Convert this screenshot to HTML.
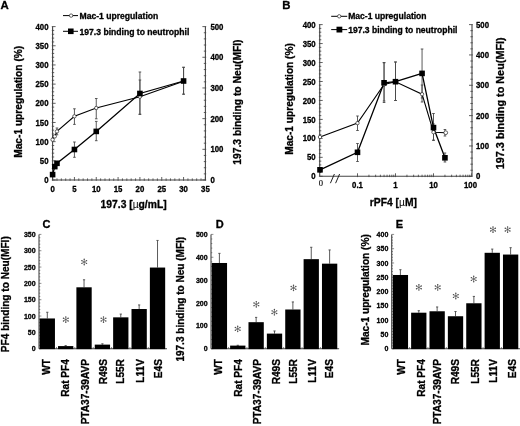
<!DOCTYPE html>
<html><head><meta charset="utf-8"><title>Figure</title>
<style>
html,body{margin:0;padding:0;background:#fff;}
body{width:520px;height:426px;overflow:hidden;font-family:"Liberation Sans",sans-serif;}
svg{display:block;filter:blur(0.35px);}
</style></head><body>
<svg width="520" height="426" viewBox="0 0 520 426">
<rect x="0" y="0" width="520" height="426" fill="#fff"/>
<text transform="translate(0.40 8.70)" font-size="11.4" font-weight="bold" font-family="Liberation Sans, sans-serif" text-anchor="start" fill="#000" stroke="#000" stroke-width="0.3" stroke-linejoin="round" >A</text>
<line x1="52.60" y1="26.60" x2="52.60" y2="180.00" stroke="#444" stroke-width="1.1" />
<line x1="205.40" y1="26.60" x2="205.40" y2="180.00" stroke="#444" stroke-width="1.1" />
<line x1="52.60" y1="180.00" x2="205.40" y2="180.00" stroke="#444" stroke-width="1.1" />
<line x1="51.80" y1="180.00" x2="55.60" y2="180.00" stroke="#444" stroke-width="0.85" />
<text transform="translate(48.50 183.10) scale(0.92 1)" font-size="8.5" font-weight="bold" font-family="Liberation Sans, sans-serif" text-anchor="end" fill="#000" stroke="#000" stroke-width="0.3" stroke-linejoin="round" >0</text>
<line x1="51.80" y1="176.16" x2="54.20" y2="176.16" stroke="#444" stroke-width="0.85" />
<line x1="51.80" y1="172.33" x2="54.20" y2="172.33" stroke="#444" stroke-width="0.85" />
<line x1="51.80" y1="168.50" x2="54.20" y2="168.50" stroke="#444" stroke-width="0.85" />
<line x1="51.80" y1="164.66" x2="54.20" y2="164.66" stroke="#444" stroke-width="0.85" />
<line x1="51.80" y1="160.82" x2="55.60" y2="160.82" stroke="#444" stroke-width="0.85" />
<text transform="translate(48.50 163.92) scale(0.92 1)" font-size="8.5" font-weight="bold" font-family="Liberation Sans, sans-serif" text-anchor="end" fill="#000" stroke="#000" stroke-width="0.3" stroke-linejoin="round" >50</text>
<line x1="51.80" y1="156.99" x2="54.20" y2="156.99" stroke="#444" stroke-width="0.85" />
<line x1="51.80" y1="153.16" x2="54.20" y2="153.16" stroke="#444" stroke-width="0.85" />
<line x1="51.80" y1="149.32" x2="54.20" y2="149.32" stroke="#444" stroke-width="0.85" />
<line x1="51.80" y1="145.49" x2="54.20" y2="145.49" stroke="#444" stroke-width="0.85" />
<line x1="51.80" y1="141.65" x2="55.60" y2="141.65" stroke="#444" stroke-width="0.85" />
<text transform="translate(48.50 144.75) scale(0.92 1)" font-size="8.5" font-weight="bold" font-family="Liberation Sans, sans-serif" text-anchor="end" fill="#000" stroke="#000" stroke-width="0.3" stroke-linejoin="round" >100</text>
<line x1="51.80" y1="137.81" x2="54.20" y2="137.81" stroke="#444" stroke-width="0.85" />
<line x1="51.80" y1="133.98" x2="54.20" y2="133.98" stroke="#444" stroke-width="0.85" />
<line x1="51.80" y1="130.15" x2="54.20" y2="130.15" stroke="#444" stroke-width="0.85" />
<line x1="51.80" y1="126.31" x2="54.20" y2="126.31" stroke="#444" stroke-width="0.85" />
<line x1="51.80" y1="122.47" x2="55.60" y2="122.47" stroke="#444" stroke-width="0.85" />
<text transform="translate(48.50 125.57) scale(0.92 1)" font-size="8.5" font-weight="bold" font-family="Liberation Sans, sans-serif" text-anchor="end" fill="#000" stroke="#000" stroke-width="0.3" stroke-linejoin="round" >150</text>
<line x1="51.80" y1="118.64" x2="54.20" y2="118.64" stroke="#444" stroke-width="0.85" />
<line x1="51.80" y1="114.81" x2="54.20" y2="114.81" stroke="#444" stroke-width="0.85" />
<line x1="51.80" y1="110.97" x2="54.20" y2="110.97" stroke="#444" stroke-width="0.85" />
<line x1="51.80" y1="107.14" x2="54.20" y2="107.14" stroke="#444" stroke-width="0.85" />
<line x1="51.80" y1="103.30" x2="55.60" y2="103.30" stroke="#444" stroke-width="0.85" />
<text transform="translate(48.50 106.40) scale(0.92 1)" font-size="8.5" font-weight="bold" font-family="Liberation Sans, sans-serif" text-anchor="end" fill="#000" stroke="#000" stroke-width="0.3" stroke-linejoin="round" >200</text>
<line x1="51.80" y1="99.47" x2="54.20" y2="99.47" stroke="#444" stroke-width="0.85" />
<line x1="51.80" y1="95.63" x2="54.20" y2="95.63" stroke="#444" stroke-width="0.85" />
<line x1="51.80" y1="91.80" x2="54.20" y2="91.80" stroke="#444" stroke-width="0.85" />
<line x1="51.80" y1="87.96" x2="54.20" y2="87.96" stroke="#444" stroke-width="0.85" />
<line x1="51.80" y1="84.12" x2="55.60" y2="84.12" stroke="#444" stroke-width="0.85" />
<text transform="translate(48.50 87.22) scale(0.92 1)" font-size="8.5" font-weight="bold" font-family="Liberation Sans, sans-serif" text-anchor="end" fill="#000" stroke="#000" stroke-width="0.3" stroke-linejoin="round" >250</text>
<line x1="51.80" y1="80.29" x2="54.20" y2="80.29" stroke="#444" stroke-width="0.85" />
<line x1="51.80" y1="76.45" x2="54.20" y2="76.45" stroke="#444" stroke-width="0.85" />
<line x1="51.80" y1="72.62" x2="54.20" y2="72.62" stroke="#444" stroke-width="0.85" />
<line x1="51.80" y1="68.78" x2="54.20" y2="68.78" stroke="#444" stroke-width="0.85" />
<line x1="51.80" y1="64.95" x2="55.60" y2="64.95" stroke="#444" stroke-width="0.85" />
<text transform="translate(48.50 68.05) scale(0.92 1)" font-size="8.5" font-weight="bold" font-family="Liberation Sans, sans-serif" text-anchor="end" fill="#000" stroke="#000" stroke-width="0.3" stroke-linejoin="round" >300</text>
<line x1="51.80" y1="61.11" x2="54.20" y2="61.11" stroke="#444" stroke-width="0.85" />
<line x1="51.80" y1="57.28" x2="54.20" y2="57.28" stroke="#444" stroke-width="0.85" />
<line x1="51.80" y1="53.44" x2="54.20" y2="53.44" stroke="#444" stroke-width="0.85" />
<line x1="51.80" y1="49.61" x2="54.20" y2="49.61" stroke="#444" stroke-width="0.85" />
<line x1="51.80" y1="45.78" x2="55.60" y2="45.78" stroke="#444" stroke-width="0.85" />
<text transform="translate(48.50 48.88) scale(0.92 1)" font-size="8.5" font-weight="bold" font-family="Liberation Sans, sans-serif" text-anchor="end" fill="#000" stroke="#000" stroke-width="0.3" stroke-linejoin="round" >350</text>
<line x1="51.80" y1="41.94" x2="54.20" y2="41.94" stroke="#444" stroke-width="0.85" />
<line x1="51.80" y1="38.10" x2="54.20" y2="38.10" stroke="#444" stroke-width="0.85" />
<line x1="51.80" y1="34.27" x2="54.20" y2="34.27" stroke="#444" stroke-width="0.85" />
<line x1="51.80" y1="30.44" x2="54.20" y2="30.44" stroke="#444" stroke-width="0.85" />
<line x1="51.80" y1="26.60" x2="55.60" y2="26.60" stroke="#444" stroke-width="0.85" />
<text transform="translate(48.50 29.70) scale(0.92 1)" font-size="8.5" font-weight="bold" font-family="Liberation Sans, sans-serif" text-anchor="end" fill="#000" stroke="#000" stroke-width="0.3" stroke-linejoin="round" >400</text>
<line x1="202.40" y1="180.00" x2="206.20" y2="180.00" stroke="#444" stroke-width="0.85" />
<text transform="translate(210.40 183.10) scale(0.92 1)" font-size="8.5" font-weight="bold" font-family="Liberation Sans, sans-serif" text-anchor="start" fill="#000" stroke="#000" stroke-width="0.3" stroke-linejoin="round" >0</text>
<line x1="203.80" y1="173.86" x2="206.20" y2="173.86" stroke="#444" stroke-width="0.85" />
<line x1="203.80" y1="167.73" x2="206.20" y2="167.73" stroke="#444" stroke-width="0.85" />
<line x1="203.80" y1="161.59" x2="206.20" y2="161.59" stroke="#444" stroke-width="0.85" />
<line x1="203.80" y1="155.46" x2="206.20" y2="155.46" stroke="#444" stroke-width="0.85" />
<line x1="202.40" y1="149.32" x2="206.20" y2="149.32" stroke="#444" stroke-width="0.85" />
<text transform="translate(210.40 152.42) scale(0.92 1)" font-size="8.5" font-weight="bold" font-family="Liberation Sans, sans-serif" text-anchor="start" fill="#000" stroke="#000" stroke-width="0.3" stroke-linejoin="round" >100</text>
<line x1="203.80" y1="143.18" x2="206.20" y2="143.18" stroke="#444" stroke-width="0.85" />
<line x1="203.80" y1="137.05" x2="206.20" y2="137.05" stroke="#444" stroke-width="0.85" />
<line x1="203.80" y1="130.91" x2="206.20" y2="130.91" stroke="#444" stroke-width="0.85" />
<line x1="203.80" y1="124.78" x2="206.20" y2="124.78" stroke="#444" stroke-width="0.85" />
<line x1="202.40" y1="118.64" x2="206.20" y2="118.64" stroke="#444" stroke-width="0.85" />
<text transform="translate(210.40 121.74) scale(0.92 1)" font-size="8.5" font-weight="bold" font-family="Liberation Sans, sans-serif" text-anchor="start" fill="#000" stroke="#000" stroke-width="0.3" stroke-linejoin="round" >200</text>
<line x1="203.80" y1="112.50" x2="206.20" y2="112.50" stroke="#444" stroke-width="0.85" />
<line x1="203.80" y1="106.37" x2="206.20" y2="106.37" stroke="#444" stroke-width="0.85" />
<line x1="203.80" y1="100.23" x2="206.20" y2="100.23" stroke="#444" stroke-width="0.85" />
<line x1="203.80" y1="94.10" x2="206.20" y2="94.10" stroke="#444" stroke-width="0.85" />
<line x1="202.40" y1="87.96" x2="206.20" y2="87.96" stroke="#444" stroke-width="0.85" />
<text transform="translate(210.40 91.06) scale(0.92 1)" font-size="8.5" font-weight="bold" font-family="Liberation Sans, sans-serif" text-anchor="start" fill="#000" stroke="#000" stroke-width="0.3" stroke-linejoin="round" >300</text>
<line x1="203.80" y1="81.82" x2="206.20" y2="81.82" stroke="#444" stroke-width="0.85" />
<line x1="203.80" y1="75.69" x2="206.20" y2="75.69" stroke="#444" stroke-width="0.85" />
<line x1="203.80" y1="69.55" x2="206.20" y2="69.55" stroke="#444" stroke-width="0.85" />
<line x1="203.80" y1="63.42" x2="206.20" y2="63.42" stroke="#444" stroke-width="0.85" />
<line x1="202.40" y1="57.28" x2="206.20" y2="57.28" stroke="#444" stroke-width="0.85" />
<text transform="translate(210.40 60.38) scale(0.92 1)" font-size="8.5" font-weight="bold" font-family="Liberation Sans, sans-serif" text-anchor="start" fill="#000" stroke="#000" stroke-width="0.3" stroke-linejoin="round" >400</text>
<line x1="203.80" y1="51.14" x2="206.20" y2="51.14" stroke="#444" stroke-width="0.85" />
<line x1="203.80" y1="45.01" x2="206.20" y2="45.01" stroke="#444" stroke-width="0.85" />
<line x1="203.80" y1="38.87" x2="206.20" y2="38.87" stroke="#444" stroke-width="0.85" />
<line x1="203.80" y1="32.74" x2="206.20" y2="32.74" stroke="#444" stroke-width="0.85" />
<line x1="202.40" y1="26.60" x2="206.20" y2="26.60" stroke="#444" stroke-width="0.85" />
<text transform="translate(210.40 29.70) scale(0.92 1)" font-size="8.5" font-weight="bold" font-family="Liberation Sans, sans-serif" text-anchor="start" fill="#000" stroke="#000" stroke-width="0.3" stroke-linejoin="round" >500</text>
<line x1="52.60" y1="177.00" x2="52.60" y2="180.80" stroke="#444" stroke-width="0.85" />
<text transform="translate(52.60 191.60) scale(0.92 1)" font-size="8.5" font-weight="bold" font-family="Liberation Sans, sans-serif" text-anchor="middle" fill="#000" stroke="#000" stroke-width="0.3" stroke-linejoin="round" >0</text>
<line x1="56.97" y1="178.40" x2="56.97" y2="180.80" stroke="#444" stroke-width="0.85" />
<line x1="61.33" y1="178.40" x2="61.33" y2="180.80" stroke="#444" stroke-width="0.85" />
<line x1="65.70" y1="178.40" x2="65.70" y2="180.80" stroke="#444" stroke-width="0.85" />
<line x1="70.06" y1="178.40" x2="70.06" y2="180.80" stroke="#444" stroke-width="0.85" />
<line x1="74.43" y1="177.00" x2="74.43" y2="180.80" stroke="#444" stroke-width="0.85" />
<text transform="translate(74.43 191.60) scale(0.92 1)" font-size="8.5" font-weight="bold" font-family="Liberation Sans, sans-serif" text-anchor="middle" fill="#000" stroke="#000" stroke-width="0.3" stroke-linejoin="round" >5</text>
<line x1="78.79" y1="178.40" x2="78.79" y2="180.80" stroke="#444" stroke-width="0.85" />
<line x1="83.16" y1="178.40" x2="83.16" y2="180.80" stroke="#444" stroke-width="0.85" />
<line x1="87.53" y1="178.40" x2="87.53" y2="180.80" stroke="#444" stroke-width="0.85" />
<line x1="91.89" y1="178.40" x2="91.89" y2="180.80" stroke="#444" stroke-width="0.85" />
<line x1="96.26" y1="177.00" x2="96.26" y2="180.80" stroke="#444" stroke-width="0.85" />
<text transform="translate(96.26 191.60) scale(0.92 1)" font-size="8.5" font-weight="bold" font-family="Liberation Sans, sans-serif" text-anchor="middle" fill="#000" stroke="#000" stroke-width="0.3" stroke-linejoin="round" >10</text>
<line x1="100.62" y1="178.40" x2="100.62" y2="180.80" stroke="#444" stroke-width="0.85" />
<line x1="104.99" y1="178.40" x2="104.99" y2="180.80" stroke="#444" stroke-width="0.85" />
<line x1="109.35" y1="178.40" x2="109.35" y2="180.80" stroke="#444" stroke-width="0.85" />
<line x1="113.72" y1="178.40" x2="113.72" y2="180.80" stroke="#444" stroke-width="0.85" />
<line x1="118.09" y1="177.00" x2="118.09" y2="180.80" stroke="#444" stroke-width="0.85" />
<text transform="translate(118.09 191.60) scale(0.92 1)" font-size="8.5" font-weight="bold" font-family="Liberation Sans, sans-serif" text-anchor="middle" fill="#000" stroke="#000" stroke-width="0.3" stroke-linejoin="round" >15</text>
<line x1="122.45" y1="178.40" x2="122.45" y2="180.80" stroke="#444" stroke-width="0.85" />
<line x1="126.82" y1="178.40" x2="126.82" y2="180.80" stroke="#444" stroke-width="0.85" />
<line x1="131.18" y1="178.40" x2="131.18" y2="180.80" stroke="#444" stroke-width="0.85" />
<line x1="135.55" y1="178.40" x2="135.55" y2="180.80" stroke="#444" stroke-width="0.85" />
<line x1="139.91" y1="177.00" x2="139.91" y2="180.80" stroke="#444" stroke-width="0.85" />
<text transform="translate(139.91 191.60) scale(0.92 1)" font-size="8.5" font-weight="bold" font-family="Liberation Sans, sans-serif" text-anchor="middle" fill="#000" stroke="#000" stroke-width="0.3" stroke-linejoin="round" >20</text>
<line x1="144.28" y1="178.40" x2="144.28" y2="180.80" stroke="#444" stroke-width="0.85" />
<line x1="148.65" y1="178.40" x2="148.65" y2="180.80" stroke="#444" stroke-width="0.85" />
<line x1="153.01" y1="178.40" x2="153.01" y2="180.80" stroke="#444" stroke-width="0.85" />
<line x1="157.38" y1="178.40" x2="157.38" y2="180.80" stroke="#444" stroke-width="0.85" />
<line x1="161.74" y1="177.00" x2="161.74" y2="180.80" stroke="#444" stroke-width="0.85" />
<text transform="translate(161.74 191.60) scale(0.92 1)" font-size="8.5" font-weight="bold" font-family="Liberation Sans, sans-serif" text-anchor="middle" fill="#000" stroke="#000" stroke-width="0.3" stroke-linejoin="round" >25</text>
<line x1="166.11" y1="178.40" x2="166.11" y2="180.80" stroke="#444" stroke-width="0.85" />
<line x1="170.47" y1="178.40" x2="170.47" y2="180.80" stroke="#444" stroke-width="0.85" />
<line x1="174.84" y1="178.40" x2="174.84" y2="180.80" stroke="#444" stroke-width="0.85" />
<line x1="179.21" y1="178.40" x2="179.21" y2="180.80" stroke="#444" stroke-width="0.85" />
<line x1="183.57" y1="177.00" x2="183.57" y2="180.80" stroke="#444" stroke-width="0.85" />
<text transform="translate(183.57 191.60) scale(0.92 1)" font-size="8.5" font-weight="bold" font-family="Liberation Sans, sans-serif" text-anchor="middle" fill="#000" stroke="#000" stroke-width="0.3" stroke-linejoin="round" >30</text>
<line x1="187.94" y1="178.40" x2="187.94" y2="180.80" stroke="#444" stroke-width="0.85" />
<line x1="192.30" y1="178.40" x2="192.30" y2="180.80" stroke="#444" stroke-width="0.85" />
<line x1="196.67" y1="178.40" x2="196.67" y2="180.80" stroke="#444" stroke-width="0.85" />
<line x1="201.03" y1="178.40" x2="201.03" y2="180.80" stroke="#444" stroke-width="0.85" />
<line x1="205.40" y1="177.00" x2="205.40" y2="180.80" stroke="#444" stroke-width="0.85" />
<text transform="translate(205.40 191.60) scale(0.92 1)" font-size="8.5" font-weight="bold" font-family="Liberation Sans, sans-serif" text-anchor="middle" fill="#000" stroke="#000" stroke-width="0.3" stroke-linejoin="round" >35</text>
<text transform="translate(133.60 207.60)" font-size="10.3" font-weight="bold" font-family="Liberation Sans, sans-serif" text-anchor="middle" fill="#000" stroke="#000" stroke-width="0.3" stroke-linejoin="round" >197.3 [<tspan font-weight="normal" stroke="none">&#181;</tspan>g/mL]</text>
<text transform="translate(21.90 101.80) rotate(-90)" font-size="10.2" font-weight="bold" font-family="Liberation Sans, sans-serif" text-anchor="middle" fill="#000" stroke="#000" stroke-width="0.3" stroke-linejoin="round" >Mac-1 upregulation (%)</text>
<text transform="translate(240.80 102.10) rotate(-90)" font-size="10.3" font-weight="bold" font-family="Liberation Sans, sans-serif" text-anchor="middle" fill="#000" stroke="#000" stroke-width="0.3" stroke-linejoin="round" >197.3 binding to Neu(MFI)</text>
<line x1="63.00" y1="15.60" x2="78.00" y2="15.60" stroke="#000" stroke-width="1" />
<circle cx="71.10" cy="15.60" r="1.7" fill="#fff" stroke="#222" stroke-width="0.7"/>
<text transform="translate(79.50 19.30)" font-size="8.6" font-weight="bold" font-family="Liberation Sans, sans-serif" text-anchor="start" fill="#000" stroke="#000" stroke-width="0.3" stroke-linejoin="round" >Mac-1 upregulation</text>
<line x1="63.00" y1="31.30" x2="78.00" y2="31.30" stroke="#000" stroke-width="1" />
<rect x="68.00" y="28.50" width="5.60" height="5.60" fill="#000"/>
<text transform="translate(79.50 34.80)" font-size="8.6" font-weight="bold" font-family="Liberation Sans, sans-serif" text-anchor="start" fill="#000" stroke="#000" stroke-width="0.3" stroke-linejoin="round" >197.3 binding to neutrophil</text>
<line x1="56.97" y1="128.00" x2="56.97" y2="134.80" stroke="#484848" stroke-width="0.9" />
<line x1="55.67" y1="128.00" x2="58.27" y2="128.00" stroke="#484848" stroke-width="0.9" />
<line x1="55.67" y1="134.80" x2="58.27" y2="134.80" stroke="#484848" stroke-width="0.9" />
<line x1="74.43" y1="108.80" x2="74.43" y2="124.40" stroke="#484848" stroke-width="0.9" />
<line x1="73.13" y1="108.80" x2="75.73" y2="108.80" stroke="#484848" stroke-width="0.9" />
<line x1="73.13" y1="124.40" x2="75.73" y2="124.40" stroke="#484848" stroke-width="0.9" />
<line x1="96.26" y1="98.50" x2="96.26" y2="118.80" stroke="#484848" stroke-width="0.9" />
<line x1="94.96" y1="98.50" x2="97.56" y2="98.50" stroke="#484848" stroke-width="0.9" />
<line x1="94.96" y1="118.80" x2="97.56" y2="118.80" stroke="#484848" stroke-width="0.9" />
<line x1="139.91" y1="80.00" x2="139.91" y2="114.30" stroke="#484848" stroke-width="0.9" />
<line x1="138.61" y1="80.00" x2="141.21" y2="80.00" stroke="#484848" stroke-width="0.9" />
<line x1="138.61" y1="114.30" x2="141.21" y2="114.30" stroke="#484848" stroke-width="0.9" />
<line x1="183.57" y1="67.30" x2="183.57" y2="94.20" stroke="#484848" stroke-width="0.9" />
<line x1="182.27" y1="67.30" x2="184.87" y2="67.30" stroke="#484848" stroke-width="0.9" />
<line x1="182.27" y1="94.20" x2="184.87" y2="94.20" stroke="#484848" stroke-width="0.9" />
<line x1="74.43" y1="142.00" x2="74.43" y2="157.30" stroke="#484848" stroke-width="0.9" />
<line x1="73.13" y1="142.00" x2="75.73" y2="142.00" stroke="#484848" stroke-width="0.9" />
<line x1="73.13" y1="157.30" x2="75.73" y2="157.30" stroke="#484848" stroke-width="0.9" />
<line x1="96.26" y1="121.40" x2="96.26" y2="140.70" stroke="#484848" stroke-width="0.9" />
<line x1="94.96" y1="121.40" x2="97.56" y2="121.40" stroke="#484848" stroke-width="0.9" />
<line x1="94.96" y1="140.70" x2="97.56" y2="140.70" stroke="#484848" stroke-width="0.9" />
<line x1="139.91" y1="72.00" x2="139.91" y2="114.30" stroke="#484848" stroke-width="0.9" />
<line x1="138.61" y1="72.00" x2="141.21" y2="72.00" stroke="#484848" stroke-width="0.9" />
<line x1="138.61" y1="114.30" x2="141.21" y2="114.30" stroke="#484848" stroke-width="0.9" />
<line x1="183.57" y1="67.30" x2="183.57" y2="94.20" stroke="#484848" stroke-width="0.9" />
<line x1="182.27" y1="67.30" x2="184.87" y2="67.30" stroke="#484848" stroke-width="0.9" />
<line x1="182.27" y1="94.20" x2="184.87" y2="94.20" stroke="#484848" stroke-width="0.9" />
<polyline fill="none" stroke="#000" stroke-width="1.1" points="52.60,139.70 54.78,136.40 56.97,131.40 74.43,116.30 96.26,108.00 139.91,96.70 183.57,81.20"/>
<polyline fill="none" stroke="#000" stroke-width="1.3" points="52.60,174.60 54.78,166.60 56.97,163.30 74.43,149.50 96.26,131.40 139.91,93.50 183.57,81.00"/>
<circle cx="52.60" cy="139.70" r="1.7" fill="#fff" stroke="#222" stroke-width="0.7"/>
<circle cx="54.78" cy="136.40" r="1.7" fill="#fff" stroke="#222" stroke-width="0.7"/>
<circle cx="56.97" cy="131.40" r="1.7" fill="#fff" stroke="#222" stroke-width="0.7"/>
<circle cx="74.43" cy="116.30" r="1.7" fill="#fff" stroke="#222" stroke-width="0.7"/>
<circle cx="96.26" cy="108.00" r="1.7" fill="#fff" stroke="#222" stroke-width="0.7"/>
<circle cx="139.91" cy="96.70" r="1.7" fill="#fff" stroke="#222" stroke-width="0.7"/>
<circle cx="183.57" cy="81.20" r="1.7" fill="#fff" stroke="#222" stroke-width="0.7"/>
<rect x="49.80" y="171.80" width="5.60" height="5.60" fill="#000"/>
<rect x="51.98" y="163.80" width="5.60" height="5.60" fill="#000"/>
<rect x="54.17" y="160.50" width="5.60" height="5.60" fill="#000"/>
<rect x="71.63" y="146.70" width="5.60" height="5.60" fill="#000"/>
<rect x="93.46" y="128.60" width="5.60" height="5.60" fill="#000"/>
<rect x="137.11" y="90.70" width="5.60" height="5.60" fill="#000"/>
<rect x="180.77" y="78.20" width="5.60" height="5.60" fill="#000"/>
<text transform="translate(282.20 8.70)" font-size="11.4" font-weight="bold" font-family="Liberation Sans, sans-serif" text-anchor="start" fill="#000" stroke="#000" stroke-width="0.3" stroke-linejoin="round" >B</text>
<line x1="319.70" y1="24.60" x2="319.70" y2="176.30" stroke="#444" stroke-width="1.1" />
<line x1="472.00" y1="24.60" x2="472.00" y2="176.30" stroke="#444" stroke-width="1.1" />
<line x1="319.70" y1="176.30" x2="472.00" y2="176.30" stroke="#444" stroke-width="1.1" />
<line x1="318.90" y1="176.30" x2="322.70" y2="176.30" stroke="#444" stroke-width="0.85" />
<text transform="translate(315.70 179.40) scale(0.92 1)" font-size="8.5" font-weight="bold" font-family="Liberation Sans, sans-serif" text-anchor="end" fill="#000" stroke="#000" stroke-width="0.3" stroke-linejoin="round" >0</text>
<line x1="318.90" y1="172.51" x2="321.30" y2="172.51" stroke="#444" stroke-width="0.85" />
<line x1="318.90" y1="168.72" x2="321.30" y2="168.72" stroke="#444" stroke-width="0.85" />
<line x1="318.90" y1="164.92" x2="321.30" y2="164.92" stroke="#444" stroke-width="0.85" />
<line x1="318.90" y1="161.13" x2="321.30" y2="161.13" stroke="#444" stroke-width="0.85" />
<line x1="318.90" y1="157.34" x2="322.70" y2="157.34" stroke="#444" stroke-width="0.85" />
<text transform="translate(315.70 160.44) scale(0.92 1)" font-size="8.5" font-weight="bold" font-family="Liberation Sans, sans-serif" text-anchor="end" fill="#000" stroke="#000" stroke-width="0.3" stroke-linejoin="round" >50</text>
<line x1="318.90" y1="153.55" x2="321.30" y2="153.55" stroke="#444" stroke-width="0.85" />
<line x1="318.90" y1="149.75" x2="321.30" y2="149.75" stroke="#444" stroke-width="0.85" />
<line x1="318.90" y1="145.96" x2="321.30" y2="145.96" stroke="#444" stroke-width="0.85" />
<line x1="318.90" y1="142.17" x2="321.30" y2="142.17" stroke="#444" stroke-width="0.85" />
<line x1="318.90" y1="138.38" x2="322.70" y2="138.38" stroke="#444" stroke-width="0.85" />
<text transform="translate(315.70 141.47) scale(0.92 1)" font-size="8.5" font-weight="bold" font-family="Liberation Sans, sans-serif" text-anchor="end" fill="#000" stroke="#000" stroke-width="0.3" stroke-linejoin="round" >100</text>
<line x1="318.90" y1="134.58" x2="321.30" y2="134.58" stroke="#444" stroke-width="0.85" />
<line x1="318.90" y1="130.79" x2="321.30" y2="130.79" stroke="#444" stroke-width="0.85" />
<line x1="318.90" y1="127.00" x2="321.30" y2="127.00" stroke="#444" stroke-width="0.85" />
<line x1="318.90" y1="123.21" x2="321.30" y2="123.21" stroke="#444" stroke-width="0.85" />
<line x1="318.90" y1="119.41" x2="322.70" y2="119.41" stroke="#444" stroke-width="0.85" />
<text transform="translate(315.70 122.51) scale(0.92 1)" font-size="8.5" font-weight="bold" font-family="Liberation Sans, sans-serif" text-anchor="end" fill="#000" stroke="#000" stroke-width="0.3" stroke-linejoin="round" >150</text>
<line x1="318.90" y1="115.62" x2="321.30" y2="115.62" stroke="#444" stroke-width="0.85" />
<line x1="318.90" y1="111.83" x2="321.30" y2="111.83" stroke="#444" stroke-width="0.85" />
<line x1="318.90" y1="108.03" x2="321.30" y2="108.03" stroke="#444" stroke-width="0.85" />
<line x1="318.90" y1="104.24" x2="321.30" y2="104.24" stroke="#444" stroke-width="0.85" />
<line x1="318.90" y1="100.45" x2="322.70" y2="100.45" stroke="#444" stroke-width="0.85" />
<text transform="translate(315.70 103.55) scale(0.92 1)" font-size="8.5" font-weight="bold" font-family="Liberation Sans, sans-serif" text-anchor="end" fill="#000" stroke="#000" stroke-width="0.3" stroke-linejoin="round" >200</text>
<line x1="318.90" y1="96.66" x2="321.30" y2="96.66" stroke="#444" stroke-width="0.85" />
<line x1="318.90" y1="92.86" x2="321.30" y2="92.86" stroke="#444" stroke-width="0.85" />
<line x1="318.90" y1="89.07" x2="321.30" y2="89.07" stroke="#444" stroke-width="0.85" />
<line x1="318.90" y1="85.28" x2="321.30" y2="85.28" stroke="#444" stroke-width="0.85" />
<line x1="318.90" y1="81.49" x2="322.70" y2="81.49" stroke="#444" stroke-width="0.85" />
<text transform="translate(315.70 84.59) scale(0.92 1)" font-size="8.5" font-weight="bold" font-family="Liberation Sans, sans-serif" text-anchor="end" fill="#000" stroke="#000" stroke-width="0.3" stroke-linejoin="round" >250</text>
<line x1="318.90" y1="77.69" x2="321.30" y2="77.69" stroke="#444" stroke-width="0.85" />
<line x1="318.90" y1="73.90" x2="321.30" y2="73.90" stroke="#444" stroke-width="0.85" />
<line x1="318.90" y1="70.11" x2="321.30" y2="70.11" stroke="#444" stroke-width="0.85" />
<line x1="318.90" y1="66.32" x2="321.30" y2="66.32" stroke="#444" stroke-width="0.85" />
<line x1="318.90" y1="62.52" x2="322.70" y2="62.52" stroke="#444" stroke-width="0.85" />
<text transform="translate(315.70 65.62) scale(0.92 1)" font-size="8.5" font-weight="bold" font-family="Liberation Sans, sans-serif" text-anchor="end" fill="#000" stroke="#000" stroke-width="0.3" stroke-linejoin="round" >300</text>
<line x1="318.90" y1="58.73" x2="321.30" y2="58.73" stroke="#444" stroke-width="0.85" />
<line x1="318.90" y1="54.94" x2="321.30" y2="54.94" stroke="#444" stroke-width="0.85" />
<line x1="318.90" y1="51.15" x2="321.30" y2="51.15" stroke="#444" stroke-width="0.85" />
<line x1="318.90" y1="47.35" x2="321.30" y2="47.35" stroke="#444" stroke-width="0.85" />
<line x1="318.90" y1="43.56" x2="322.70" y2="43.56" stroke="#444" stroke-width="0.85" />
<text transform="translate(315.70 46.66) scale(0.92 1)" font-size="8.5" font-weight="bold" font-family="Liberation Sans, sans-serif" text-anchor="end" fill="#000" stroke="#000" stroke-width="0.3" stroke-linejoin="round" >350</text>
<line x1="318.90" y1="39.77" x2="321.30" y2="39.77" stroke="#444" stroke-width="0.85" />
<line x1="318.90" y1="35.98" x2="321.30" y2="35.98" stroke="#444" stroke-width="0.85" />
<line x1="318.90" y1="32.19" x2="321.30" y2="32.19" stroke="#444" stroke-width="0.85" />
<line x1="318.90" y1="28.39" x2="321.30" y2="28.39" stroke="#444" stroke-width="0.85" />
<line x1="318.90" y1="24.60" x2="322.70" y2="24.60" stroke="#444" stroke-width="0.85" />
<text transform="translate(315.70 27.70) scale(0.92 1)" font-size="8.5" font-weight="bold" font-family="Liberation Sans, sans-serif" text-anchor="end" fill="#000" stroke="#000" stroke-width="0.3" stroke-linejoin="round" >400</text>
<line x1="469.00" y1="176.30" x2="472.80" y2="176.30" stroke="#444" stroke-width="0.85" />
<text transform="translate(476.00 179.40) scale(0.92 1)" font-size="8.5" font-weight="bold" font-family="Liberation Sans, sans-serif" text-anchor="start" fill="#000" stroke="#000" stroke-width="0.3" stroke-linejoin="round" >0</text>
<line x1="470.40" y1="170.23" x2="472.80" y2="170.23" stroke="#444" stroke-width="0.85" />
<line x1="470.40" y1="164.16" x2="472.80" y2="164.16" stroke="#444" stroke-width="0.85" />
<line x1="470.40" y1="158.10" x2="472.80" y2="158.10" stroke="#444" stroke-width="0.85" />
<line x1="470.40" y1="152.03" x2="472.80" y2="152.03" stroke="#444" stroke-width="0.85" />
<line x1="469.00" y1="145.96" x2="472.80" y2="145.96" stroke="#444" stroke-width="0.85" />
<text transform="translate(476.00 149.06) scale(0.92 1)" font-size="8.5" font-weight="bold" font-family="Liberation Sans, sans-serif" text-anchor="start" fill="#000" stroke="#000" stroke-width="0.3" stroke-linejoin="round" >100</text>
<line x1="470.40" y1="139.89" x2="472.80" y2="139.89" stroke="#444" stroke-width="0.85" />
<line x1="470.40" y1="133.82" x2="472.80" y2="133.82" stroke="#444" stroke-width="0.85" />
<line x1="470.40" y1="127.76" x2="472.80" y2="127.76" stroke="#444" stroke-width="0.85" />
<line x1="470.40" y1="121.69" x2="472.80" y2="121.69" stroke="#444" stroke-width="0.85" />
<line x1="469.00" y1="115.62" x2="472.80" y2="115.62" stroke="#444" stroke-width="0.85" />
<text transform="translate(476.00 118.72) scale(0.92 1)" font-size="8.5" font-weight="bold" font-family="Liberation Sans, sans-serif" text-anchor="start" fill="#000" stroke="#000" stroke-width="0.3" stroke-linejoin="round" >200</text>
<line x1="470.40" y1="109.55" x2="472.80" y2="109.55" stroke="#444" stroke-width="0.85" />
<line x1="470.40" y1="103.48" x2="472.80" y2="103.48" stroke="#444" stroke-width="0.85" />
<line x1="470.40" y1="97.42" x2="472.80" y2="97.42" stroke="#444" stroke-width="0.85" />
<line x1="470.40" y1="91.35" x2="472.80" y2="91.35" stroke="#444" stroke-width="0.85" />
<line x1="469.00" y1="85.28" x2="472.80" y2="85.28" stroke="#444" stroke-width="0.85" />
<text transform="translate(476.00 88.38) scale(0.92 1)" font-size="8.5" font-weight="bold" font-family="Liberation Sans, sans-serif" text-anchor="start" fill="#000" stroke="#000" stroke-width="0.3" stroke-linejoin="round" >300</text>
<line x1="470.40" y1="79.21" x2="472.80" y2="79.21" stroke="#444" stroke-width="0.85" />
<line x1="470.40" y1="73.14" x2="472.80" y2="73.14" stroke="#444" stroke-width="0.85" />
<line x1="470.40" y1="67.08" x2="472.80" y2="67.08" stroke="#444" stroke-width="0.85" />
<line x1="470.40" y1="61.01" x2="472.80" y2="61.01" stroke="#444" stroke-width="0.85" />
<line x1="469.00" y1="54.94" x2="472.80" y2="54.94" stroke="#444" stroke-width="0.85" />
<text transform="translate(476.00 58.04) scale(0.92 1)" font-size="8.5" font-weight="bold" font-family="Liberation Sans, sans-serif" text-anchor="start" fill="#000" stroke="#000" stroke-width="0.3" stroke-linejoin="round" >400</text>
<line x1="470.40" y1="48.87" x2="472.80" y2="48.87" stroke="#444" stroke-width="0.85" />
<line x1="470.40" y1="42.80" x2="472.80" y2="42.80" stroke="#444" stroke-width="0.85" />
<line x1="470.40" y1="36.74" x2="472.80" y2="36.74" stroke="#444" stroke-width="0.85" />
<line x1="470.40" y1="30.67" x2="472.80" y2="30.67" stroke="#444" stroke-width="0.85" />
<line x1="469.00" y1="24.60" x2="472.80" y2="24.60" stroke="#444" stroke-width="0.85" />
<text transform="translate(476.00 27.70) scale(0.92 1)" font-size="8.5" font-weight="bold" font-family="Liberation Sans, sans-serif" text-anchor="start" fill="#000" stroke="#000" stroke-width="0.3" stroke-linejoin="round" >500</text>
<line x1="357.50" y1="173.30" x2="357.50" y2="177.10" stroke="#444" stroke-width="0.85" />
<line x1="368.94" y1="174.70" x2="368.94" y2="177.10" stroke="#444" stroke-width="0.85" />
<line x1="375.63" y1="174.70" x2="375.63" y2="177.10" stroke="#444" stroke-width="0.85" />
<line x1="380.38" y1="174.70" x2="380.38" y2="177.10" stroke="#444" stroke-width="0.85" />
<line x1="384.06" y1="174.70" x2="384.06" y2="177.10" stroke="#444" stroke-width="0.85" />
<line x1="387.07" y1="174.70" x2="387.07" y2="177.10" stroke="#444" stroke-width="0.85" />
<line x1="389.61" y1="174.70" x2="389.61" y2="177.10" stroke="#444" stroke-width="0.85" />
<line x1="391.82" y1="174.70" x2="391.82" y2="177.10" stroke="#444" stroke-width="0.85" />
<line x1="393.76" y1="174.70" x2="393.76" y2="177.10" stroke="#444" stroke-width="0.85" />
<line x1="395.50" y1="173.30" x2="395.50" y2="177.10" stroke="#444" stroke-width="0.85" />
<line x1="406.94" y1="174.70" x2="406.94" y2="177.10" stroke="#444" stroke-width="0.85" />
<line x1="413.63" y1="174.70" x2="413.63" y2="177.10" stroke="#444" stroke-width="0.85" />
<line x1="418.38" y1="174.70" x2="418.38" y2="177.10" stroke="#444" stroke-width="0.85" />
<line x1="422.06" y1="174.70" x2="422.06" y2="177.10" stroke="#444" stroke-width="0.85" />
<line x1="425.07" y1="174.70" x2="425.07" y2="177.10" stroke="#444" stroke-width="0.85" />
<line x1="427.61" y1="174.70" x2="427.61" y2="177.10" stroke="#444" stroke-width="0.85" />
<line x1="429.82" y1="174.70" x2="429.82" y2="177.10" stroke="#444" stroke-width="0.85" />
<line x1="431.76" y1="174.70" x2="431.76" y2="177.10" stroke="#444" stroke-width="0.85" />
<line x1="433.50" y1="173.30" x2="433.50" y2="177.10" stroke="#444" stroke-width="0.85" />
<line x1="444.94" y1="174.70" x2="444.94" y2="177.10" stroke="#444" stroke-width="0.85" />
<line x1="451.63" y1="174.70" x2="451.63" y2="177.10" stroke="#444" stroke-width="0.85" />
<line x1="456.38" y1="174.70" x2="456.38" y2="177.10" stroke="#444" stroke-width="0.85" />
<line x1="460.06" y1="174.70" x2="460.06" y2="177.10" stroke="#444" stroke-width="0.85" />
<line x1="463.07" y1="174.70" x2="463.07" y2="177.10" stroke="#444" stroke-width="0.85" />
<line x1="465.61" y1="174.70" x2="465.61" y2="177.10" stroke="#444" stroke-width="0.85" />
<line x1="467.82" y1="174.70" x2="467.82" y2="177.10" stroke="#444" stroke-width="0.85" />
<line x1="469.76" y1="174.70" x2="469.76" y2="177.10" stroke="#444" stroke-width="0.85" />
<line x1="471.50" y1="173.30" x2="471.50" y2="176.30" stroke="#444" stroke-width="0.7" />
<text transform="translate(357.50 187.90) scale(0.92 1)" font-size="8.5" font-weight="bold" font-family="Liberation Sans, sans-serif" text-anchor="middle" fill="#000" stroke="#000" stroke-width="0.3" stroke-linejoin="round" >0.1</text>
<text transform="translate(395.50 187.90) scale(0.92 1)" font-size="8.5" font-weight="bold" font-family="Liberation Sans, sans-serif" text-anchor="middle" fill="#000" stroke="#000" stroke-width="0.3" stroke-linejoin="round" >1</text>
<text transform="translate(433.50 187.90) scale(0.92 1)" font-size="8.5" font-weight="bold" font-family="Liberation Sans, sans-serif" text-anchor="middle" fill="#000" stroke="#000" stroke-width="0.3" stroke-linejoin="round" >10</text>
<text transform="translate(470.50 187.90) scale(0.92 1)" font-size="8.5" font-weight="bold" font-family="Liberation Sans, sans-serif" text-anchor="middle" fill="#000" stroke="#000" stroke-width="0.3" stroke-linejoin="round" >100</text>
<text transform="translate(321.00 185.90)" font-size="8.6" font-weight="normal" font-family="Liberation Serif, sans-serif" text-anchor="middle" fill="#111"  stroke="#111" stroke-width="0.2">0</text>
<line x1="330.40" y1="183.20" x2="334.40" y2="174.00" stroke="#222" stroke-width="1.0" />
<line x1="335.60" y1="183.20" x2="339.60" y2="174.00" stroke="#222" stroke-width="1.0" />
<text transform="translate(393.40 206.30)" font-size="10.3" font-weight="bold" font-family="Liberation Sans, sans-serif" text-anchor="middle" fill="#000" stroke="#000" stroke-width="0.3" stroke-linejoin="round" >rPF4 [<tspan font-weight="normal" stroke="none">&#181;</tspan>M]</text>
<text transform="translate(292.90 98.95) rotate(-90)" font-size="10.17" font-weight="bold" font-family="Liberation Sans, sans-serif" text-anchor="middle" fill="#000" stroke="#000" stroke-width="0.3" stroke-linejoin="round" >Mac-1 upregulation (%)</text>
<text transform="translate(504.00 103.30) rotate(-90)" font-size="10.85" font-weight="bold" font-family="Liberation Sans, sans-serif" text-anchor="middle" fill="#000" stroke="#000" stroke-width="0.3" stroke-linejoin="round" >197.3 binding to Neu(MFI)</text>
<line x1="331.20" y1="16.30" x2="347.20" y2="16.30" stroke="#000" stroke-width="1" />
<circle cx="339.20" cy="16.30" r="1.7" fill="#fff" stroke="#222" stroke-width="0.7"/>
<text transform="translate(348.20 19.40)" font-size="8.55" font-weight="bold" font-family="Liberation Sans, sans-serif" text-anchor="start" fill="#000" stroke="#000" stroke-width="0.3" stroke-linejoin="round" >Mac-1 upregulation</text>
<line x1="331.20" y1="29.60" x2="347.20" y2="29.60" stroke="#000" stroke-width="1" />
<rect x="336.50" y="26.70" width="5.80" height="5.80" fill="#000"/>
<text transform="translate(348.20 32.70)" font-size="8.55" font-weight="bold" font-family="Liberation Sans, sans-serif" text-anchor="start" fill="#000" stroke="#000" stroke-width="0.3" stroke-linejoin="round" >197.3 binding to neutrophil</text>
<line x1="357.50" y1="116.00" x2="357.50" y2="130.50" stroke="#484848" stroke-width="0.9" />
<line x1="356.20" y1="116.00" x2="358.80" y2="116.00" stroke="#484848" stroke-width="0.9" />
<line x1="356.20" y1="130.50" x2="358.80" y2="130.50" stroke="#484848" stroke-width="0.9" />
<line x1="384.06" y1="62.80" x2="384.06" y2="102.50" stroke="#484848" stroke-width="0.9" />
<line x1="382.76" y1="62.80" x2="385.36" y2="62.80" stroke="#484848" stroke-width="0.9" />
<line x1="382.76" y1="102.50" x2="385.36" y2="102.50" stroke="#484848" stroke-width="0.9" />
<line x1="395.50" y1="62.00" x2="395.50" y2="100.50" stroke="#484848" stroke-width="0.9" />
<line x1="394.20" y1="62.00" x2="396.80" y2="62.00" stroke="#484848" stroke-width="0.9" />
<line x1="394.20" y1="100.50" x2="396.80" y2="100.50" stroke="#484848" stroke-width="0.9" />
<line x1="422.06" y1="85.00" x2="422.06" y2="102.00" stroke="#484848" stroke-width="0.9" />
<line x1="420.76" y1="85.00" x2="423.36" y2="85.00" stroke="#484848" stroke-width="0.9" />
<line x1="420.76" y1="102.00" x2="423.36" y2="102.00" stroke="#484848" stroke-width="0.9" />
<line x1="433.50" y1="124.00" x2="433.50" y2="140.00" stroke="#484848" stroke-width="0.9" />
<line x1="432.20" y1="124.00" x2="434.80" y2="124.00" stroke="#484848" stroke-width="0.9" />
<line x1="432.20" y1="140.00" x2="434.80" y2="140.00" stroke="#484848" stroke-width="0.9" />
<line x1="444.94" y1="129.50" x2="444.94" y2="136.00" stroke="#484848" stroke-width="0.9" />
<line x1="443.64" y1="129.50" x2="446.24" y2="129.50" stroke="#484848" stroke-width="0.9" />
<line x1="443.64" y1="136.00" x2="446.24" y2="136.00" stroke="#484848" stroke-width="0.9" />
<line x1="357.50" y1="143.50" x2="357.50" y2="161.50" stroke="#484848" stroke-width="0.9" />
<line x1="356.20" y1="143.50" x2="358.80" y2="143.50" stroke="#484848" stroke-width="0.9" />
<line x1="356.20" y1="161.50" x2="358.80" y2="161.50" stroke="#484848" stroke-width="0.9" />
<line x1="384.06" y1="62.50" x2="384.06" y2="101.00" stroke="#484848" stroke-width="0.9" />
<line x1="382.76" y1="62.50" x2="385.36" y2="62.50" stroke="#484848" stroke-width="0.9" />
<line x1="382.76" y1="101.00" x2="385.36" y2="101.00" stroke="#484848" stroke-width="0.9" />
<line x1="395.50" y1="62.00" x2="395.50" y2="100.50" stroke="#484848" stroke-width="0.9" />
<line x1="394.20" y1="62.00" x2="396.80" y2="62.00" stroke="#484848" stroke-width="0.9" />
<line x1="394.20" y1="100.50" x2="396.80" y2="100.50" stroke="#484848" stroke-width="0.9" />
<line x1="422.06" y1="49.00" x2="422.06" y2="98.00" stroke="#484848" stroke-width="0.9" />
<line x1="420.76" y1="49.00" x2="423.36" y2="49.00" stroke="#484848" stroke-width="0.9" />
<line x1="420.76" y1="98.00" x2="423.36" y2="98.00" stroke="#484848" stroke-width="0.9" />
<line x1="433.50" y1="113.50" x2="433.50" y2="140.50" stroke="#484848" stroke-width="0.9" />
<line x1="432.20" y1="113.50" x2="434.80" y2="113.50" stroke="#484848" stroke-width="0.9" />
<line x1="432.20" y1="140.50" x2="434.80" y2="140.50" stroke="#484848" stroke-width="0.9" />
<line x1="444.94" y1="153.00" x2="444.94" y2="162.00" stroke="#484848" stroke-width="0.9" />
<line x1="443.64" y1="153.00" x2="446.24" y2="153.00" stroke="#484848" stroke-width="0.9" />
<line x1="443.64" y1="162.00" x2="446.24" y2="162.00" stroke="#484848" stroke-width="0.9" />
<polyline fill="none" stroke="#000" stroke-width="1.1" points="320.00,137.00 357.50,123.10 384.06,84.50 395.50,81.80 422.06,94.20 433.50,132.20 445.74,132.70"/>
<polyline fill="none" stroke="#000" stroke-width="1.3" points="320.00,169.80 357.50,152.30 384.06,82.80 395.50,81.70 422.06,73.40 433.50,127.60 444.94,157.80"/>
<circle cx="320.00" cy="137.00" r="1.7" fill="#fff" stroke="#222" stroke-width="0.7"/>
<circle cx="357.50" cy="123.10" r="1.7" fill="#fff" stroke="#222" stroke-width="0.7"/>
<circle cx="384.06" cy="84.50" r="1.7" fill="#fff" stroke="#222" stroke-width="0.7"/>
<circle cx="395.50" cy="81.80" r="1.7" fill="#fff" stroke="#222" stroke-width="0.7"/>
<circle cx="422.06" cy="94.20" r="1.7" fill="#fff" stroke="#222" stroke-width="0.7"/>
<circle cx="433.50" cy="132.20" r="1.7" fill="#fff" stroke="#222" stroke-width="0.7"/>
<circle cx="445.74" cy="132.70" r="1.9" fill="#fff" stroke="#222" stroke-width="0.7"/>
<rect x="317.20" y="167.00" width="5.60" height="5.60" fill="#000"/>
<rect x="354.70" y="149.50" width="5.60" height="5.60" fill="#000"/>
<rect x="381.26" y="80.00" width="5.60" height="5.60" fill="#000"/>
<rect x="392.70" y="78.90" width="5.60" height="5.60" fill="#000"/>
<rect x="419.26" y="70.60" width="5.60" height="5.60" fill="#000"/>
<rect x="430.70" y="124.80" width="5.60" height="5.60" fill="#000"/>
<rect x="442.14" y="155.00" width="5.60" height="5.60" fill="#000"/>
<text transform="translate(42.60 228.30)" font-size="11" font-weight="bold" font-family="Liberation Sans, sans-serif" text-anchor="start" fill="#000" stroke="#000" stroke-width="0.3" stroke-linejoin="round" >C</text>
<line x1="39.00" y1="234.40" x2="39.00" y2="348.70" stroke="#444" stroke-width="1.1" />
<line x1="39.00" y1="348.70" x2="167.02" y2="348.70" stroke="#444" stroke-width="1.1" />
<line x1="39.00" y1="348.70" x2="41.40" y2="348.70" stroke="#444" stroke-width="0.6" />
<text transform="translate(35.60 351.30) scale(0.95 1)" font-size="7.4" font-weight="bold" font-family="Liberation Sans, sans-serif" text-anchor="end" fill="#000" stroke="#000" stroke-width="0.3" stroke-linejoin="round" >0</text>
<line x1="39.00" y1="345.43" x2="40.30" y2="345.43" stroke="#444" stroke-width="0.6" />
<line x1="39.00" y1="342.17" x2="40.30" y2="342.17" stroke="#444" stroke-width="0.6" />
<line x1="39.00" y1="338.90" x2="40.30" y2="338.90" stroke="#444" stroke-width="0.6" />
<line x1="39.00" y1="335.64" x2="40.30" y2="335.64" stroke="#444" stroke-width="0.6" />
<line x1="39.00" y1="332.37" x2="41.40" y2="332.37" stroke="#444" stroke-width="0.6" />
<text transform="translate(35.60 334.97) scale(0.95 1)" font-size="7.4" font-weight="bold" font-family="Liberation Sans, sans-serif" text-anchor="end" fill="#000" stroke="#000" stroke-width="0.3" stroke-linejoin="round" >50</text>
<line x1="39.00" y1="329.11" x2="40.30" y2="329.11" stroke="#444" stroke-width="0.6" />
<line x1="39.00" y1="325.84" x2="40.30" y2="325.84" stroke="#444" stroke-width="0.6" />
<line x1="39.00" y1="322.57" x2="40.30" y2="322.57" stroke="#444" stroke-width="0.6" />
<line x1="39.00" y1="319.31" x2="40.30" y2="319.31" stroke="#444" stroke-width="0.6" />
<line x1="39.00" y1="316.04" x2="41.40" y2="316.04" stroke="#444" stroke-width="0.6" />
<text transform="translate(35.60 318.64) scale(0.95 1)" font-size="7.4" font-weight="bold" font-family="Liberation Sans, sans-serif" text-anchor="end" fill="#000" stroke="#000" stroke-width="0.3" stroke-linejoin="round" >100</text>
<line x1="39.00" y1="312.78" x2="40.30" y2="312.78" stroke="#444" stroke-width="0.6" />
<line x1="39.00" y1="309.51" x2="40.30" y2="309.51" stroke="#444" stroke-width="0.6" />
<line x1="39.00" y1="306.25" x2="40.30" y2="306.25" stroke="#444" stroke-width="0.6" />
<line x1="39.00" y1="302.98" x2="40.30" y2="302.98" stroke="#444" stroke-width="0.6" />
<line x1="39.00" y1="299.71" x2="41.40" y2="299.71" stroke="#444" stroke-width="0.6" />
<text transform="translate(35.60 302.31) scale(0.95 1)" font-size="7.4" font-weight="bold" font-family="Liberation Sans, sans-serif" text-anchor="end" fill="#000" stroke="#000" stroke-width="0.3" stroke-linejoin="round" >150</text>
<line x1="39.00" y1="296.45" x2="40.30" y2="296.45" stroke="#444" stroke-width="0.6" />
<line x1="39.00" y1="293.18" x2="40.30" y2="293.18" stroke="#444" stroke-width="0.6" />
<line x1="39.00" y1="289.92" x2="40.30" y2="289.92" stroke="#444" stroke-width="0.6" />
<line x1="39.00" y1="286.65" x2="40.30" y2="286.65" stroke="#444" stroke-width="0.6" />
<line x1="39.00" y1="283.39" x2="41.40" y2="283.39" stroke="#444" stroke-width="0.6" />
<text transform="translate(35.60 285.99) scale(0.95 1)" font-size="7.4" font-weight="bold" font-family="Liberation Sans, sans-serif" text-anchor="end" fill="#000" stroke="#000" stroke-width="0.3" stroke-linejoin="round" >200</text>
<line x1="39.00" y1="280.12" x2="40.30" y2="280.12" stroke="#444" stroke-width="0.6" />
<line x1="39.00" y1="276.85" x2="40.30" y2="276.85" stroke="#444" stroke-width="0.6" />
<line x1="39.00" y1="273.59" x2="40.30" y2="273.59" stroke="#444" stroke-width="0.6" />
<line x1="39.00" y1="270.32" x2="40.30" y2="270.32" stroke="#444" stroke-width="0.6" />
<line x1="39.00" y1="267.06" x2="41.40" y2="267.06" stroke="#444" stroke-width="0.6" />
<text transform="translate(35.60 269.66) scale(0.95 1)" font-size="7.4" font-weight="bold" font-family="Liberation Sans, sans-serif" text-anchor="end" fill="#000" stroke="#000" stroke-width="0.3" stroke-linejoin="round" >250</text>
<line x1="39.00" y1="263.79" x2="40.30" y2="263.79" stroke="#444" stroke-width="0.6" />
<line x1="39.00" y1="260.53" x2="40.30" y2="260.53" stroke="#444" stroke-width="0.6" />
<line x1="39.00" y1="257.26" x2="40.30" y2="257.26" stroke="#444" stroke-width="0.6" />
<line x1="39.00" y1="253.99" x2="40.30" y2="253.99" stroke="#444" stroke-width="0.6" />
<line x1="39.00" y1="250.73" x2="41.40" y2="250.73" stroke="#444" stroke-width="0.6" />
<text transform="translate(35.60 253.33) scale(0.95 1)" font-size="7.4" font-weight="bold" font-family="Liberation Sans, sans-serif" text-anchor="end" fill="#000" stroke="#000" stroke-width="0.3" stroke-linejoin="round" >300</text>
<line x1="39.00" y1="247.46" x2="40.30" y2="247.46" stroke="#444" stroke-width="0.6" />
<line x1="39.00" y1="244.20" x2="40.30" y2="244.20" stroke="#444" stroke-width="0.6" />
<line x1="39.00" y1="240.93" x2="40.30" y2="240.93" stroke="#444" stroke-width="0.6" />
<line x1="39.00" y1="237.67" x2="40.30" y2="237.67" stroke="#444" stroke-width="0.6" />
<line x1="39.00" y1="234.40" x2="41.40" y2="234.40" stroke="#444" stroke-width="0.6" />
<text transform="translate(35.60 237.00) scale(0.95 1)" font-size="7.4" font-weight="bold" font-family="Liberation Sans, sans-serif" text-anchor="end" fill="#000" stroke="#000" stroke-width="0.3" stroke-linejoin="round" >350</text>
<text transform="translate(8.50 294.20) rotate(-90)" font-size="10.09" font-weight="bold" font-family="Liberation Sans, sans-serif" text-anchor="middle" fill="#000" stroke="#000" stroke-width="0.3" stroke-linejoin="round" >PF4 binding to Neu(MFI)</text>
<line x1="47.30" y1="312.25" x2="47.30" y2="318.46" stroke="#484848" stroke-width="0.9" />
<line x1="46.20" y1="312.25" x2="48.40" y2="312.25" stroke="#484848" stroke-width="0.9" />
<rect x="39.65" y="318.46" width="15.30" height="30.64" fill="#000"/>
<text transform="translate(49.60 359.10) rotate(-90)" font-size="10.1" font-weight="bold" font-family="Liberation Sans, sans-serif" text-anchor="end" fill="#000" stroke="#000" stroke-width="0.3" stroke-linejoin="round" >WT</text>
<line x1="65.67" y1="345.60" x2="65.67" y2="346.09" stroke="#484848" stroke-width="0.9" />
<line x1="64.57" y1="345.60" x2="66.77" y2="345.60" stroke="#484848" stroke-width="0.9" />
<rect x="58.02" y="346.09" width="15.30" height="3.01" fill="#000"/>
<text transform="translate(69.00 359.10) rotate(-90)" font-size="10.1" font-weight="bold" font-family="Liberation Sans, sans-serif" text-anchor="end" fill="#000" stroke="#000" stroke-width="0.3" stroke-linejoin="round" >Rat PF4</text>
<line x1="56.47" y1="347.10" x2="56.47" y2="348.70" stroke="#444" stroke-width="0.7" />
<line x1="84.04" y1="279.79" x2="84.04" y2="287.30" stroke="#484848" stroke-width="0.9" />
<line x1="82.94" y1="279.79" x2="85.14" y2="279.79" stroke="#484848" stroke-width="0.9" />
<rect x="76.39" y="287.30" width="15.30" height="61.80" fill="#000"/>
<text transform="translate(88.80 359.10) rotate(-90)" font-size="10.1" font-weight="bold" font-family="Liberation Sans, sans-serif" text-anchor="end" fill="#000" stroke="#000" stroke-width="0.3" stroke-linejoin="round" >PTA37-39AVP</text>
<line x1="74.84" y1="347.10" x2="74.84" y2="348.70" stroke="#444" stroke-width="0.7" />
<line x1="102.41" y1="343.80" x2="102.41" y2="344.62" stroke="#484848" stroke-width="0.9" />
<line x1="101.31" y1="343.80" x2="103.51" y2="343.80" stroke="#484848" stroke-width="0.9" />
<rect x="94.76" y="344.62" width="15.30" height="4.48" fill="#000"/>
<text transform="translate(107.00 359.10) rotate(-90)" font-size="10.1" font-weight="bold" font-family="Liberation Sans, sans-serif" text-anchor="end" fill="#000" stroke="#000" stroke-width="0.3" stroke-linejoin="round" >R49S</text>
<line x1="93.21" y1="347.10" x2="93.21" y2="348.70" stroke="#444" stroke-width="0.7" />
<line x1="120.78" y1="314.08" x2="120.78" y2="317.35" stroke="#484848" stroke-width="0.9" />
<line x1="119.68" y1="314.08" x2="121.88" y2="314.08" stroke="#484848" stroke-width="0.9" />
<rect x="113.13" y="317.35" width="15.30" height="31.75" fill="#000"/>
<text transform="translate(124.10 359.10) rotate(-90)" font-size="10.1" font-weight="bold" font-family="Liberation Sans, sans-serif" text-anchor="end" fill="#000" stroke="#000" stroke-width="0.3" stroke-linejoin="round" >L55R</text>
<line x1="111.58" y1="347.10" x2="111.58" y2="348.70" stroke="#444" stroke-width="0.7" />
<line x1="139.15" y1="304.94" x2="139.15" y2="309.02" stroke="#484848" stroke-width="0.9" />
<line x1="138.05" y1="304.94" x2="140.25" y2="304.94" stroke="#484848" stroke-width="0.9" />
<rect x="131.50" y="309.02" width="15.30" height="40.08" fill="#000"/>
<text transform="translate(144.10 359.10) rotate(-90)" font-size="10.1" font-weight="bold" font-family="Liberation Sans, sans-serif" text-anchor="end" fill="#000" stroke="#000" stroke-width="0.3" stroke-linejoin="round" >L11V</text>
<line x1="129.95" y1="347.10" x2="129.95" y2="348.70" stroke="#444" stroke-width="0.7" />
<line x1="157.52" y1="240.44" x2="157.52" y2="267.55" stroke="#484848" stroke-width="0.9" />
<line x1="156.42" y1="240.44" x2="158.62" y2="240.44" stroke="#484848" stroke-width="0.9" />
<rect x="149.87" y="267.55" width="15.30" height="81.55" fill="#000"/>
<text transform="translate(162.00 359.10) rotate(-90)" font-size="10.1" font-weight="bold" font-family="Liberation Sans, sans-serif" text-anchor="end" fill="#000" stroke="#000" stroke-width="0.3" stroke-linejoin="round" >E4S</text>
<line x1="148.32" y1="347.10" x2="148.32" y2="348.70" stroke="#444" stroke-width="0.7" />
<line x1="65.80" y1="316.90" x2="65.80" y2="322.30" stroke="#4a4a4a" stroke-width="0.65" />
<line x1="68.14" y1="318.25" x2="63.46" y2="320.95" stroke="#4a4a4a" stroke-width="0.65" />
<line x1="68.14" y1="320.95" x2="63.46" y2="318.25" stroke="#4a4a4a" stroke-width="0.65" />
<circle cx="65.80" cy="322.30" r="0.72" fill="#4a4a4a"/>
<circle cx="63.46" cy="320.95" r="0.72" fill="#4a4a4a"/>
<circle cx="63.46" cy="318.25" r="0.72" fill="#4a4a4a"/>
<circle cx="65.80" cy="316.90" r="0.72" fill="#4a4a4a"/>
<circle cx="68.14" cy="318.25" r="0.72" fill="#4a4a4a"/>
<circle cx="68.14" cy="320.95" r="0.72" fill="#4a4a4a"/>
<line x1="84.20" y1="259.30" x2="84.20" y2="264.70" stroke="#4a4a4a" stroke-width="0.65" />
<line x1="86.54" y1="260.65" x2="81.86" y2="263.35" stroke="#4a4a4a" stroke-width="0.65" />
<line x1="86.54" y1="263.35" x2="81.86" y2="260.65" stroke="#4a4a4a" stroke-width="0.65" />
<circle cx="84.20" cy="264.70" r="0.72" fill="#4a4a4a"/>
<circle cx="81.86" cy="263.35" r="0.72" fill="#4a4a4a"/>
<circle cx="81.86" cy="260.65" r="0.72" fill="#4a4a4a"/>
<circle cx="84.20" cy="259.30" r="0.72" fill="#4a4a4a"/>
<circle cx="86.54" cy="260.65" r="0.72" fill="#4a4a4a"/>
<circle cx="86.54" cy="263.35" r="0.72" fill="#4a4a4a"/>
<line x1="103.50" y1="316.90" x2="103.50" y2="322.30" stroke="#4a4a4a" stroke-width="0.65" />
<line x1="105.84" y1="318.25" x2="101.16" y2="320.95" stroke="#4a4a4a" stroke-width="0.65" />
<line x1="105.84" y1="320.95" x2="101.16" y2="318.25" stroke="#4a4a4a" stroke-width="0.65" />
<circle cx="103.50" cy="322.30" r="0.72" fill="#4a4a4a"/>
<circle cx="101.16" cy="320.95" r="0.72" fill="#4a4a4a"/>
<circle cx="101.16" cy="318.25" r="0.72" fill="#4a4a4a"/>
<circle cx="103.50" cy="316.90" r="0.72" fill="#4a4a4a"/>
<circle cx="105.84" cy="318.25" r="0.72" fill="#4a4a4a"/>
<circle cx="105.84" cy="320.95" r="0.72" fill="#4a4a4a"/>
<text transform="translate(215.80 228.30)" font-size="11" font-weight="bold" font-family="Liberation Sans, sans-serif" text-anchor="start" fill="#000" stroke="#000" stroke-width="0.3" stroke-linejoin="round" >D</text>
<line x1="211.00" y1="234.40" x2="211.00" y2="348.70" stroke="#444" stroke-width="1.1" />
<line x1="211.00" y1="348.70" x2="339.12" y2="348.70" stroke="#444" stroke-width="1.1" />
<line x1="211.00" y1="348.70" x2="213.40" y2="348.70" stroke="#444" stroke-width="0.6" />
<text transform="translate(207.60 351.30) scale(0.95 1)" font-size="7.4" font-weight="bold" font-family="Liberation Sans, sans-serif" text-anchor="end" fill="#000" stroke="#000" stroke-width="0.3" stroke-linejoin="round" >0</text>
<line x1="211.00" y1="344.13" x2="212.30" y2="344.13" stroke="#444" stroke-width="0.6" />
<line x1="211.00" y1="339.56" x2="212.30" y2="339.56" stroke="#444" stroke-width="0.6" />
<line x1="211.00" y1="334.98" x2="212.30" y2="334.98" stroke="#444" stroke-width="0.6" />
<line x1="211.00" y1="330.41" x2="212.30" y2="330.41" stroke="#444" stroke-width="0.6" />
<line x1="211.00" y1="325.84" x2="213.40" y2="325.84" stroke="#444" stroke-width="0.6" />
<text transform="translate(207.60 328.44) scale(0.95 1)" font-size="7.4" font-weight="bold" font-family="Liberation Sans, sans-serif" text-anchor="end" fill="#000" stroke="#000" stroke-width="0.3" stroke-linejoin="round" >100</text>
<line x1="211.00" y1="321.27" x2="212.30" y2="321.27" stroke="#444" stroke-width="0.6" />
<line x1="211.00" y1="316.70" x2="212.30" y2="316.70" stroke="#444" stroke-width="0.6" />
<line x1="211.00" y1="312.12" x2="212.30" y2="312.12" stroke="#444" stroke-width="0.6" />
<line x1="211.00" y1="307.55" x2="212.30" y2="307.55" stroke="#444" stroke-width="0.6" />
<line x1="211.00" y1="302.98" x2="213.40" y2="302.98" stroke="#444" stroke-width="0.6" />
<text transform="translate(207.60 305.58) scale(0.95 1)" font-size="7.4" font-weight="bold" font-family="Liberation Sans, sans-serif" text-anchor="end" fill="#000" stroke="#000" stroke-width="0.3" stroke-linejoin="round" >200</text>
<line x1="211.00" y1="298.41" x2="212.30" y2="298.41" stroke="#444" stroke-width="0.6" />
<line x1="211.00" y1="293.84" x2="212.30" y2="293.84" stroke="#444" stroke-width="0.6" />
<line x1="211.00" y1="289.26" x2="212.30" y2="289.26" stroke="#444" stroke-width="0.6" />
<line x1="211.00" y1="284.69" x2="212.30" y2="284.69" stroke="#444" stroke-width="0.6" />
<line x1="211.00" y1="280.12" x2="213.40" y2="280.12" stroke="#444" stroke-width="0.6" />
<text transform="translate(207.60 282.72) scale(0.95 1)" font-size="7.4" font-weight="bold" font-family="Liberation Sans, sans-serif" text-anchor="end" fill="#000" stroke="#000" stroke-width="0.3" stroke-linejoin="round" >300</text>
<line x1="211.00" y1="275.55" x2="212.30" y2="275.55" stroke="#444" stroke-width="0.6" />
<line x1="211.00" y1="270.98" x2="212.30" y2="270.98" stroke="#444" stroke-width="0.6" />
<line x1="211.00" y1="266.40" x2="212.30" y2="266.40" stroke="#444" stroke-width="0.6" />
<line x1="211.00" y1="261.83" x2="212.30" y2="261.83" stroke="#444" stroke-width="0.6" />
<line x1="211.00" y1="257.26" x2="213.40" y2="257.26" stroke="#444" stroke-width="0.6" />
<text transform="translate(207.60 259.86) scale(0.95 1)" font-size="7.4" font-weight="bold" font-family="Liberation Sans, sans-serif" text-anchor="end" fill="#000" stroke="#000" stroke-width="0.3" stroke-linejoin="round" >400</text>
<line x1="211.00" y1="252.69" x2="212.30" y2="252.69" stroke="#444" stroke-width="0.6" />
<line x1="211.00" y1="248.12" x2="212.30" y2="248.12" stroke="#444" stroke-width="0.6" />
<line x1="211.00" y1="243.54" x2="212.30" y2="243.54" stroke="#444" stroke-width="0.6" />
<line x1="211.00" y1="238.97" x2="212.30" y2="238.97" stroke="#444" stroke-width="0.6" />
<line x1="211.00" y1="234.40" x2="213.40" y2="234.40" stroke="#444" stroke-width="0.6" />
<text transform="translate(207.60 237.00) scale(0.95 1)" font-size="7.4" font-weight="bold" font-family="Liberation Sans, sans-serif" text-anchor="end" fill="#000" stroke="#000" stroke-width="0.3" stroke-linejoin="round" >500</text>
<text transform="translate(184.10 299.20) rotate(-90)" font-size="10.04" font-weight="bold" font-family="Liberation Sans, sans-serif" text-anchor="middle" fill="#000" stroke="#000" stroke-width="0.3" stroke-linejoin="round" >197.3 binding to Neu (MFI)</text>
<line x1="219.40" y1="253.37" x2="219.40" y2="262.98" stroke="#484848" stroke-width="0.9" />
<line x1="218.30" y1="253.37" x2="220.50" y2="253.37" stroke="#484848" stroke-width="0.9" />
<rect x="211.75" y="262.98" width="15.30" height="86.12" fill="#000"/>
<text transform="translate(222.00 359.10) rotate(-90)" font-size="10.1" font-weight="bold" font-family="Liberation Sans, sans-serif" text-anchor="end" fill="#000" stroke="#000" stroke-width="0.3" stroke-linejoin="round" >WT</text>
<line x1="237.77" y1="345.27" x2="237.77" y2="345.61" stroke="#484848" stroke-width="0.9" />
<line x1="236.67" y1="345.27" x2="238.87" y2="345.27" stroke="#484848" stroke-width="0.9" />
<rect x="230.12" y="345.61" width="15.30" height="3.49" fill="#000"/>
<text transform="translate(242.30 359.10) rotate(-90)" font-size="10.1" font-weight="bold" font-family="Liberation Sans, sans-serif" text-anchor="end" fill="#000" stroke="#000" stroke-width="0.3" stroke-linejoin="round" >Rat PF4</text>
<line x1="228.57" y1="347.10" x2="228.57" y2="348.70" stroke="#444" stroke-width="0.7" />
<line x1="256.14" y1="317.38" x2="256.14" y2="322.18" stroke="#484848" stroke-width="0.9" />
<line x1="255.04" y1="317.38" x2="257.24" y2="317.38" stroke="#484848" stroke-width="0.9" />
<rect x="248.49" y="322.18" width="15.30" height="26.92" fill="#000"/>
<text transform="translate(261.10 359.10) rotate(-90)" font-size="10.1" font-weight="bold" font-family="Liberation Sans, sans-serif" text-anchor="end" fill="#000" stroke="#000" stroke-width="0.3" stroke-linejoin="round" >PTA37-39AVP</text>
<line x1="246.94" y1="347.10" x2="246.94" y2="348.70" stroke="#444" stroke-width="0.7" />
<line x1="274.51" y1="330.98" x2="274.51" y2="333.61" stroke="#484848" stroke-width="0.9" />
<line x1="273.41" y1="330.98" x2="275.61" y2="330.98" stroke="#484848" stroke-width="0.9" />
<rect x="266.86" y="333.61" width="15.30" height="15.49" fill="#000"/>
<text transform="translate(279.60 359.10) rotate(-90)" font-size="10.1" font-weight="bold" font-family="Liberation Sans, sans-serif" text-anchor="end" fill="#000" stroke="#000" stroke-width="0.3" stroke-linejoin="round" >R49S</text>
<line x1="265.31" y1="347.10" x2="265.31" y2="348.70" stroke="#444" stroke-width="0.7" />
<line x1="292.88" y1="301.95" x2="292.88" y2="309.50" stroke="#484848" stroke-width="0.9" />
<line x1="291.78" y1="301.95" x2="293.98" y2="301.95" stroke="#484848" stroke-width="0.9" />
<rect x="285.23" y="309.50" width="15.30" height="39.60" fill="#000"/>
<text transform="translate(296.60 359.10) rotate(-90)" font-size="10.1" font-weight="bold" font-family="Liberation Sans, sans-serif" text-anchor="end" fill="#000" stroke="#000" stroke-width="0.3" stroke-linejoin="round" >L55R</text>
<line x1="283.68" y1="347.10" x2="283.68" y2="348.70" stroke="#444" stroke-width="0.7" />
<line x1="311.25" y1="247.27" x2="311.25" y2="259.16" stroke="#484848" stroke-width="0.9" />
<line x1="310.15" y1="247.27" x2="312.35" y2="247.27" stroke="#484848" stroke-width="0.9" />
<rect x="303.60" y="259.16" width="15.30" height="89.94" fill="#000"/>
<text transform="translate(316.40 359.10) rotate(-90)" font-size="10.1" font-weight="bold" font-family="Liberation Sans, sans-serif" text-anchor="end" fill="#000" stroke="#000" stroke-width="0.3" stroke-linejoin="round" >L11V</text>
<line x1="302.05" y1="347.10" x2="302.05" y2="348.70" stroke="#444" stroke-width="0.7" />
<line x1="329.62" y1="249.94" x2="329.62" y2="263.66" stroke="#484848" stroke-width="0.9" />
<line x1="328.52" y1="249.94" x2="330.72" y2="249.94" stroke="#484848" stroke-width="0.9" />
<rect x="321.97" y="263.66" width="15.30" height="85.44" fill="#000"/>
<text transform="translate(332.70 359.10) rotate(-90)" font-size="10.1" font-weight="bold" font-family="Liberation Sans, sans-serif" text-anchor="end" fill="#000" stroke="#000" stroke-width="0.3" stroke-linejoin="round" >E4S</text>
<line x1="320.42" y1="347.10" x2="320.42" y2="348.70" stroke="#444" stroke-width="0.7" />
<line x1="237.70" y1="326.20" x2="237.70" y2="331.60" stroke="#4a4a4a" stroke-width="0.65" />
<line x1="240.04" y1="327.55" x2="235.36" y2="330.25" stroke="#4a4a4a" stroke-width="0.65" />
<line x1="240.04" y1="330.25" x2="235.36" y2="327.55" stroke="#4a4a4a" stroke-width="0.65" />
<circle cx="237.70" cy="331.60" r="0.72" fill="#4a4a4a"/>
<circle cx="235.36" cy="330.25" r="0.72" fill="#4a4a4a"/>
<circle cx="235.36" cy="327.55" r="0.72" fill="#4a4a4a"/>
<circle cx="237.70" cy="326.20" r="0.72" fill="#4a4a4a"/>
<circle cx="240.04" cy="327.55" r="0.72" fill="#4a4a4a"/>
<circle cx="240.04" cy="330.25" r="0.72" fill="#4a4a4a"/>
<line x1="256.30" y1="301.60" x2="256.30" y2="307.00" stroke="#4a4a4a" stroke-width="0.65" />
<line x1="258.64" y1="302.95" x2="253.96" y2="305.65" stroke="#4a4a4a" stroke-width="0.65" />
<line x1="258.64" y1="305.65" x2="253.96" y2="302.95" stroke="#4a4a4a" stroke-width="0.65" />
<circle cx="256.30" cy="307.00" r="0.72" fill="#4a4a4a"/>
<circle cx="253.96" cy="305.65" r="0.72" fill="#4a4a4a"/>
<circle cx="253.96" cy="302.95" r="0.72" fill="#4a4a4a"/>
<circle cx="256.30" cy="301.60" r="0.72" fill="#4a4a4a"/>
<circle cx="258.64" cy="302.95" r="0.72" fill="#4a4a4a"/>
<circle cx="258.64" cy="305.65" r="0.72" fill="#4a4a4a"/>
<line x1="274.40" y1="309.50" x2="274.40" y2="314.90" stroke="#4a4a4a" stroke-width="0.65" />
<line x1="276.74" y1="310.85" x2="272.06" y2="313.55" stroke="#4a4a4a" stroke-width="0.65" />
<line x1="276.74" y1="313.55" x2="272.06" y2="310.85" stroke="#4a4a4a" stroke-width="0.65" />
<circle cx="274.40" cy="314.90" r="0.72" fill="#4a4a4a"/>
<circle cx="272.06" cy="313.55" r="0.72" fill="#4a4a4a"/>
<circle cx="272.06" cy="310.85" r="0.72" fill="#4a4a4a"/>
<circle cx="274.40" cy="309.50" r="0.72" fill="#4a4a4a"/>
<circle cx="276.74" cy="310.85" r="0.72" fill="#4a4a4a"/>
<circle cx="276.74" cy="313.55" r="0.72" fill="#4a4a4a"/>
<line x1="293.50" y1="285.20" x2="293.50" y2="290.60" stroke="#4a4a4a" stroke-width="0.65" />
<line x1="295.84" y1="286.55" x2="291.16" y2="289.25" stroke="#4a4a4a" stroke-width="0.65" />
<line x1="295.84" y1="289.25" x2="291.16" y2="286.55" stroke="#4a4a4a" stroke-width="0.65" />
<circle cx="293.50" cy="290.60" r="0.72" fill="#4a4a4a"/>
<circle cx="291.16" cy="289.25" r="0.72" fill="#4a4a4a"/>
<circle cx="291.16" cy="286.55" r="0.72" fill="#4a4a4a"/>
<circle cx="293.50" cy="285.20" r="0.72" fill="#4a4a4a"/>
<circle cx="295.84" cy="286.55" r="0.72" fill="#4a4a4a"/>
<circle cx="295.84" cy="289.25" r="0.72" fill="#4a4a4a"/>
<text transform="translate(395.80 228.30)" font-size="11" font-weight="bold" font-family="Liberation Sans, sans-serif" text-anchor="start" fill="#000" stroke="#000" stroke-width="0.3" stroke-linejoin="round" >E</text>
<line x1="391.70" y1="234.40" x2="391.70" y2="348.70" stroke="#444" stroke-width="1.1" />
<line x1="391.70" y1="348.70" x2="520.12" y2="348.70" stroke="#444" stroke-width="1.1" />
<line x1="391.70" y1="348.70" x2="394.10" y2="348.70" stroke="#444" stroke-width="0.6" />
<text transform="translate(388.30 351.30) scale(0.95 1)" font-size="7.4" font-weight="bold" font-family="Liberation Sans, sans-serif" text-anchor="end" fill="#000" stroke="#000" stroke-width="0.3" stroke-linejoin="round" >0</text>
<line x1="391.70" y1="345.84" x2="393.00" y2="345.84" stroke="#444" stroke-width="0.6" />
<line x1="391.70" y1="342.99" x2="393.00" y2="342.99" stroke="#444" stroke-width="0.6" />
<line x1="391.70" y1="340.13" x2="393.00" y2="340.13" stroke="#444" stroke-width="0.6" />
<line x1="391.70" y1="337.27" x2="393.00" y2="337.27" stroke="#444" stroke-width="0.6" />
<line x1="391.70" y1="334.41" x2="394.10" y2="334.41" stroke="#444" stroke-width="0.6" />
<text transform="translate(388.30 337.01) scale(0.95 1)" font-size="7.4" font-weight="bold" font-family="Liberation Sans, sans-serif" text-anchor="end" fill="#000" stroke="#000" stroke-width="0.3" stroke-linejoin="round" >50</text>
<line x1="391.70" y1="331.56" x2="393.00" y2="331.56" stroke="#444" stroke-width="0.6" />
<line x1="391.70" y1="328.70" x2="393.00" y2="328.70" stroke="#444" stroke-width="0.6" />
<line x1="391.70" y1="325.84" x2="393.00" y2="325.84" stroke="#444" stroke-width="0.6" />
<line x1="391.70" y1="322.98" x2="393.00" y2="322.98" stroke="#444" stroke-width="0.6" />
<line x1="391.70" y1="320.12" x2="394.10" y2="320.12" stroke="#444" stroke-width="0.6" />
<text transform="translate(388.30 322.73) scale(0.95 1)" font-size="7.4" font-weight="bold" font-family="Liberation Sans, sans-serif" text-anchor="end" fill="#000" stroke="#000" stroke-width="0.3" stroke-linejoin="round" >100</text>
<line x1="391.70" y1="317.27" x2="393.00" y2="317.27" stroke="#444" stroke-width="0.6" />
<line x1="391.70" y1="314.41" x2="393.00" y2="314.41" stroke="#444" stroke-width="0.6" />
<line x1="391.70" y1="311.55" x2="393.00" y2="311.55" stroke="#444" stroke-width="0.6" />
<line x1="391.70" y1="308.69" x2="393.00" y2="308.69" stroke="#444" stroke-width="0.6" />
<line x1="391.70" y1="305.84" x2="394.10" y2="305.84" stroke="#444" stroke-width="0.6" />
<text transform="translate(388.30 308.44) scale(0.95 1)" font-size="7.4" font-weight="bold" font-family="Liberation Sans, sans-serif" text-anchor="end" fill="#000" stroke="#000" stroke-width="0.3" stroke-linejoin="round" >150</text>
<line x1="391.70" y1="302.98" x2="393.00" y2="302.98" stroke="#444" stroke-width="0.6" />
<line x1="391.70" y1="300.12" x2="393.00" y2="300.12" stroke="#444" stroke-width="0.6" />
<line x1="391.70" y1="297.26" x2="393.00" y2="297.26" stroke="#444" stroke-width="0.6" />
<line x1="391.70" y1="294.41" x2="393.00" y2="294.41" stroke="#444" stroke-width="0.6" />
<line x1="391.70" y1="291.55" x2="394.10" y2="291.55" stroke="#444" stroke-width="0.6" />
<text transform="translate(388.30 294.15) scale(0.95 1)" font-size="7.4" font-weight="bold" font-family="Liberation Sans, sans-serif" text-anchor="end" fill="#000" stroke="#000" stroke-width="0.3" stroke-linejoin="round" >200</text>
<line x1="391.70" y1="288.69" x2="393.00" y2="288.69" stroke="#444" stroke-width="0.6" />
<line x1="391.70" y1="285.83" x2="393.00" y2="285.83" stroke="#444" stroke-width="0.6" />
<line x1="391.70" y1="282.98" x2="393.00" y2="282.98" stroke="#444" stroke-width="0.6" />
<line x1="391.70" y1="280.12" x2="393.00" y2="280.12" stroke="#444" stroke-width="0.6" />
<line x1="391.70" y1="277.26" x2="394.10" y2="277.26" stroke="#444" stroke-width="0.6" />
<text transform="translate(388.30 279.86) scale(0.95 1)" font-size="7.4" font-weight="bold" font-family="Liberation Sans, sans-serif" text-anchor="end" fill="#000" stroke="#000" stroke-width="0.3" stroke-linejoin="round" >250</text>
<line x1="391.70" y1="274.40" x2="393.00" y2="274.40" stroke="#444" stroke-width="0.6" />
<line x1="391.70" y1="271.55" x2="393.00" y2="271.55" stroke="#444" stroke-width="0.6" />
<line x1="391.70" y1="268.69" x2="393.00" y2="268.69" stroke="#444" stroke-width="0.6" />
<line x1="391.70" y1="265.83" x2="393.00" y2="265.83" stroke="#444" stroke-width="0.6" />
<line x1="391.70" y1="262.98" x2="394.10" y2="262.98" stroke="#444" stroke-width="0.6" />
<text transform="translate(388.30 265.58) scale(0.95 1)" font-size="7.4" font-weight="bold" font-family="Liberation Sans, sans-serif" text-anchor="end" fill="#000" stroke="#000" stroke-width="0.3" stroke-linejoin="round" >300</text>
<line x1="391.70" y1="260.12" x2="393.00" y2="260.12" stroke="#444" stroke-width="0.6" />
<line x1="391.70" y1="257.26" x2="393.00" y2="257.26" stroke="#444" stroke-width="0.6" />
<line x1="391.70" y1="254.40" x2="393.00" y2="254.40" stroke="#444" stroke-width="0.6" />
<line x1="391.70" y1="251.55" x2="393.00" y2="251.55" stroke="#444" stroke-width="0.6" />
<line x1="391.70" y1="248.69" x2="394.10" y2="248.69" stroke="#444" stroke-width="0.6" />
<text transform="translate(388.30 251.29) scale(0.95 1)" font-size="7.4" font-weight="bold" font-family="Liberation Sans, sans-serif" text-anchor="end" fill="#000" stroke="#000" stroke-width="0.3" stroke-linejoin="round" >350</text>
<line x1="391.70" y1="245.83" x2="393.00" y2="245.83" stroke="#444" stroke-width="0.6" />
<line x1="391.70" y1="242.97" x2="393.00" y2="242.97" stroke="#444" stroke-width="0.6" />
<line x1="391.70" y1="240.12" x2="393.00" y2="240.12" stroke="#444" stroke-width="0.6" />
<line x1="391.70" y1="237.26" x2="393.00" y2="237.26" stroke="#444" stroke-width="0.6" />
<line x1="391.70" y1="234.40" x2="394.10" y2="234.40" stroke="#444" stroke-width="0.6" />
<text transform="translate(388.30 237.00) scale(0.95 1)" font-size="7.4" font-weight="bold" font-family="Liberation Sans, sans-serif" text-anchor="end" fill="#000" stroke="#000" stroke-width="0.3" stroke-linejoin="round" >400</text>
<text transform="translate(369.00 289.85) rotate(-90)" font-size="10.14" font-weight="bold" font-family="Liberation Sans, sans-serif" text-anchor="middle" fill="#000" stroke="#000" stroke-width="0.3" stroke-linejoin="round" >Mac-1 upregulation (%)</text>
<line x1="400.40" y1="269.69" x2="400.40" y2="274.98" stroke="#484848" stroke-width="0.9" />
<line x1="399.30" y1="269.69" x2="401.50" y2="269.69" stroke="#484848" stroke-width="0.9" />
<rect x="392.75" y="274.98" width="15.30" height="74.12" fill="#000"/>
<text transform="translate(405.40 359.10) rotate(-90)" font-size="10.1" font-weight="bold" font-family="Liberation Sans, sans-serif" text-anchor="end" fill="#000" stroke="#000" stroke-width="0.3" stroke-linejoin="round" >WT</text>
<line x1="418.77" y1="310.70" x2="418.77" y2="312.70" stroke="#484848" stroke-width="0.9" />
<line x1="417.67" y1="310.70" x2="419.87" y2="310.70" stroke="#484848" stroke-width="0.9" />
<rect x="411.12" y="312.70" width="15.30" height="36.40" fill="#000"/>
<text transform="translate(424.90 359.10) rotate(-90)" font-size="10.1" font-weight="bold" font-family="Liberation Sans, sans-serif" text-anchor="end" fill="#000" stroke="#000" stroke-width="0.3" stroke-linejoin="round" >Rat PF4</text>
<line x1="409.57" y1="347.10" x2="409.57" y2="348.70" stroke="#444" stroke-width="0.7" />
<line x1="437.14" y1="306.98" x2="437.14" y2="311.27" stroke="#484848" stroke-width="0.9" />
<line x1="436.04" y1="306.98" x2="438.24" y2="306.98" stroke="#484848" stroke-width="0.9" />
<rect x="429.49" y="311.27" width="15.30" height="37.83" fill="#000"/>
<text transform="translate(441.40 359.10) rotate(-90)" font-size="10.1" font-weight="bold" font-family="Liberation Sans, sans-serif" text-anchor="end" fill="#000" stroke="#000" stroke-width="0.3" stroke-linejoin="round" >PTA37-39AVP</text>
<line x1="427.94" y1="347.10" x2="427.94" y2="348.70" stroke="#444" stroke-width="0.7" />
<line x1="455.51" y1="311.52" x2="455.51" y2="316.24" stroke="#484848" stroke-width="0.9" />
<line x1="454.41" y1="311.52" x2="456.61" y2="311.52" stroke="#484848" stroke-width="0.9" />
<rect x="447.86" y="316.24" width="15.30" height="32.86" fill="#000"/>
<text transform="translate(459.40 359.10) rotate(-90)" font-size="10.1" font-weight="bold" font-family="Liberation Sans, sans-serif" text-anchor="end" fill="#000" stroke="#000" stroke-width="0.3" stroke-linejoin="round" >R49S</text>
<line x1="446.31" y1="347.10" x2="446.31" y2="348.70" stroke="#444" stroke-width="0.7" />
<line x1="473.88" y1="296.41" x2="473.88" y2="303.27" stroke="#484848" stroke-width="0.9" />
<line x1="472.78" y1="296.41" x2="474.98" y2="296.41" stroke="#484848" stroke-width="0.9" />
<rect x="466.23" y="303.27" width="15.30" height="45.83" fill="#000"/>
<text transform="translate(478.50 359.10) rotate(-90)" font-size="10.1" font-weight="bold" font-family="Liberation Sans, sans-serif" text-anchor="end" fill="#000" stroke="#000" stroke-width="0.3" stroke-linejoin="round" >L55R</text>
<line x1="464.68" y1="347.10" x2="464.68" y2="348.70" stroke="#444" stroke-width="0.7" />
<line x1="492.25" y1="249.09" x2="492.25" y2="252.80" stroke="#484848" stroke-width="0.9" />
<line x1="491.15" y1="249.09" x2="493.35" y2="249.09" stroke="#484848" stroke-width="0.9" />
<rect x="484.60" y="252.80" width="15.30" height="96.30" fill="#000"/>
<text transform="translate(497.00 359.10) rotate(-90)" font-size="10.1" font-weight="bold" font-family="Liberation Sans, sans-serif" text-anchor="end" fill="#000" stroke="#000" stroke-width="0.3" stroke-linejoin="round" >L11V</text>
<line x1="483.05" y1="347.10" x2="483.05" y2="348.70" stroke="#444" stroke-width="0.7" />
<line x1="510.62" y1="247.69" x2="510.62" y2="254.55" stroke="#484848" stroke-width="0.9" />
<line x1="509.52" y1="247.69" x2="511.72" y2="247.69" stroke="#484848" stroke-width="0.9" />
<rect x="502.97" y="254.55" width="15.30" height="94.55" fill="#000"/>
<text transform="translate(515.60 359.10) rotate(-90)" font-size="10.1" font-weight="bold" font-family="Liberation Sans, sans-serif" text-anchor="end" fill="#000" stroke="#000" stroke-width="0.3" stroke-linejoin="round" >E4S</text>
<line x1="501.42" y1="347.10" x2="501.42" y2="348.70" stroke="#444" stroke-width="0.7" />
<line x1="418.90" y1="284.70" x2="418.90" y2="290.10" stroke="#4a4a4a" stroke-width="0.65" />
<line x1="421.24" y1="286.05" x2="416.56" y2="288.75" stroke="#4a4a4a" stroke-width="0.65" />
<line x1="421.24" y1="288.75" x2="416.56" y2="286.05" stroke="#4a4a4a" stroke-width="0.65" />
<circle cx="418.90" cy="290.10" r="0.72" fill="#4a4a4a"/>
<circle cx="416.56" cy="288.75" r="0.72" fill="#4a4a4a"/>
<circle cx="416.56" cy="286.05" r="0.72" fill="#4a4a4a"/>
<circle cx="418.90" cy="284.70" r="0.72" fill="#4a4a4a"/>
<circle cx="421.24" cy="286.05" r="0.72" fill="#4a4a4a"/>
<circle cx="421.24" cy="288.75" r="0.72" fill="#4a4a4a"/>
<line x1="437.70" y1="284.70" x2="437.70" y2="290.10" stroke="#4a4a4a" stroke-width="0.65" />
<line x1="440.04" y1="286.05" x2="435.36" y2="288.75" stroke="#4a4a4a" stroke-width="0.65" />
<line x1="440.04" y1="288.75" x2="435.36" y2="286.05" stroke="#4a4a4a" stroke-width="0.65" />
<circle cx="437.70" cy="290.10" r="0.72" fill="#4a4a4a"/>
<circle cx="435.36" cy="288.75" r="0.72" fill="#4a4a4a"/>
<circle cx="435.36" cy="286.05" r="0.72" fill="#4a4a4a"/>
<circle cx="437.70" cy="284.70" r="0.72" fill="#4a4a4a"/>
<circle cx="440.04" cy="286.05" r="0.72" fill="#4a4a4a"/>
<circle cx="440.04" cy="288.75" r="0.72" fill="#4a4a4a"/>
<line x1="455.80" y1="293.30" x2="455.80" y2="298.70" stroke="#4a4a4a" stroke-width="0.65" />
<line x1="458.14" y1="294.65" x2="453.46" y2="297.35" stroke="#4a4a4a" stroke-width="0.65" />
<line x1="458.14" y1="297.35" x2="453.46" y2="294.65" stroke="#4a4a4a" stroke-width="0.65" />
<circle cx="455.80" cy="298.70" r="0.72" fill="#4a4a4a"/>
<circle cx="453.46" cy="297.35" r="0.72" fill="#4a4a4a"/>
<circle cx="453.46" cy="294.65" r="0.72" fill="#4a4a4a"/>
<circle cx="455.80" cy="293.30" r="0.72" fill="#4a4a4a"/>
<circle cx="458.14" cy="294.65" r="0.72" fill="#4a4a4a"/>
<circle cx="458.14" cy="297.35" r="0.72" fill="#4a4a4a"/>
<line x1="473.70" y1="276.30" x2="473.70" y2="281.70" stroke="#4a4a4a" stroke-width="0.65" />
<line x1="476.04" y1="277.65" x2="471.36" y2="280.35" stroke="#4a4a4a" stroke-width="0.65" />
<line x1="476.04" y1="280.35" x2="471.36" y2="277.65" stroke="#4a4a4a" stroke-width="0.65" />
<circle cx="473.70" cy="281.70" r="0.72" fill="#4a4a4a"/>
<circle cx="471.36" cy="280.35" r="0.72" fill="#4a4a4a"/>
<circle cx="471.36" cy="277.65" r="0.72" fill="#4a4a4a"/>
<circle cx="473.70" cy="276.30" r="0.72" fill="#4a4a4a"/>
<circle cx="476.04" cy="277.65" r="0.72" fill="#4a4a4a"/>
<circle cx="476.04" cy="280.35" r="0.72" fill="#4a4a4a"/>
<line x1="493.00" y1="226.90" x2="493.00" y2="232.30" stroke="#4a4a4a" stroke-width="0.65" />
<line x1="495.34" y1="228.25" x2="490.66" y2="230.95" stroke="#4a4a4a" stroke-width="0.65" />
<line x1="495.34" y1="230.95" x2="490.66" y2="228.25" stroke="#4a4a4a" stroke-width="0.65" />
<circle cx="493.00" cy="232.30" r="0.72" fill="#4a4a4a"/>
<circle cx="490.66" cy="230.95" r="0.72" fill="#4a4a4a"/>
<circle cx="490.66" cy="228.25" r="0.72" fill="#4a4a4a"/>
<circle cx="493.00" cy="226.90" r="0.72" fill="#4a4a4a"/>
<circle cx="495.34" cy="228.25" r="0.72" fill="#4a4a4a"/>
<circle cx="495.34" cy="230.95" r="0.72" fill="#4a4a4a"/>
<line x1="507.60" y1="226.90" x2="507.60" y2="232.30" stroke="#4a4a4a" stroke-width="0.65" />
<line x1="509.94" y1="228.25" x2="505.26" y2="230.95" stroke="#4a4a4a" stroke-width="0.65" />
<line x1="509.94" y1="230.95" x2="505.26" y2="228.25" stroke="#4a4a4a" stroke-width="0.65" />
<circle cx="507.60" cy="232.30" r="0.72" fill="#4a4a4a"/>
<circle cx="505.26" cy="230.95" r="0.72" fill="#4a4a4a"/>
<circle cx="505.26" cy="228.25" r="0.72" fill="#4a4a4a"/>
<circle cx="507.60" cy="226.90" r="0.72" fill="#4a4a4a"/>
<circle cx="509.94" cy="228.25" r="0.72" fill="#4a4a4a"/>
<circle cx="509.94" cy="230.95" r="0.72" fill="#4a4a4a"/>
</svg>
</body></html>
